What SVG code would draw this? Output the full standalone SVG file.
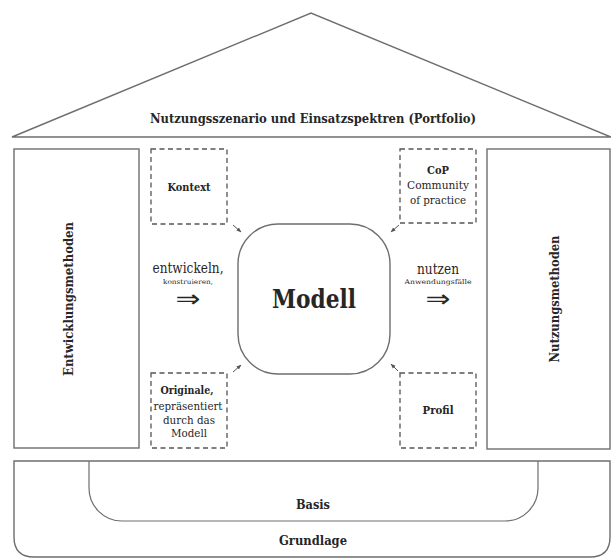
<svg xmlns="http://www.w3.org/2000/svg" width="611" height="558" viewBox="0 0 611 558">
  <style>
    .frame { fill: #fff; stroke: #6e6e6e; stroke-width: 1.4; }
    .thin { fill: none; stroke: #6e6e6e; stroke-width: 1.2; }
    .dash { fill: #fff; stroke: #555; stroke-width: 1.3; stroke-dasharray: 5 3.5; }
    .conn { fill: none; stroke: #555; stroke-width: 1; marker-end: url(#tip); }
    text { font-family: "DejaVu Serif Condensed", "DejaVu Serif", "Liberation Serif", serif; fill: #262626; text-anchor: middle; }
    .b { font-weight: bold; }
    .arrow { font-family: "DejaVu Sans", sans-serif; }
  </style>
  <defs>
    <marker id="tip" viewBox="0 0 10 10" refX="9" refY="5" markerWidth="5" markerHeight="5" orient="auto">
      <path d="M0,1 L10,5 L0,9 Z" fill="#555"/>
    </marker>
  </defs>
  <rect width="611" height="558" fill="#fff"/>

  <!-- roof -->
  <g id="roof">
    <polygon class="frame" points="12,137 311,13 611,137"/>
    <text class="b" x="313" y="123" font-size="12.5" textLength="326" lengthAdjust="spacingAndGlyphs">Nutzungsszenario und Einsatzspektren (Portfolio)</text>
  </g>

  <!-- left pillar -->
  <g id="entwicklungsmethoden">
    <rect class="frame" x="14" y="149" width="125" height="299"/>
    <text class="b" transform="translate(73,299) rotate(-90)" font-size="12.5" textLength="154" lengthAdjust="spacingAndGlyphs">Entwicklungsmethoden</text>
  </g>

  <!-- right pillar -->
  <g id="nutzungsmethoden">
    <rect class="frame" x="487" y="149" width="123" height="300"/>
    <text class="b" transform="translate(559,299) rotate(-90)" font-size="12.5" textLength="127" lengthAdjust="spacingAndGlyphs">Nutzungsmethoden</text>
  </g>

  <!-- foundation -->
  <g id="grundlage">
    <path class="frame" d="M14,461 H610 V537 Q610,557 590,557 H34 Q14,557 14,537 Z"/>
    <text class="b" x="313" y="545" font-size="12" textLength="68" lengthAdjust="spacingAndGlyphs">Grundlage</text>
  </g>
  <g id="basis">
    <path class="thin" d="M89,461 V488 A33,33 0 0 0 122,521 H505 A33,33 0 0 0 538,488 V461"/>
    <text class="b" x="313" y="509" font-size="12" textLength="34" lengthAdjust="spacingAndGlyphs">Basis</text>
  </g>

  <!-- dashed corner boxes -->
  <g id="kontext">
    <rect class="dash" x="151" y="149" width="76" height="75"/>
    <text class="b" x="189" y="191" font-size="11" textLength="43" lengthAdjust="spacingAndGlyphs">Kontext</text>
  </g>
  <g id="cop">
    <rect class="dash" x="400" y="149" width="76" height="74"/>
    <text class="b" x="438" y="174" font-size="11" textLength="22" lengthAdjust="spacingAndGlyphs">CoP</text>
    <text x="438" y="189" font-size="11" textLength="62" lengthAdjust="spacingAndGlyphs">Community</text>
    <text x="438" y="204" font-size="11" textLength="56" lengthAdjust="spacingAndGlyphs">of practice</text>
  </g>
  <g id="originale">
    <rect class="dash" x="151" y="373" width="76" height="75"/>
    <text class="b" x="187" y="394" font-size="11" textLength="53" lengthAdjust="spacingAndGlyphs">Originale,</text>
    <text x="188" y="410" font-size="11" textLength="69" lengthAdjust="spacingAndGlyphs">repräsentiert</text>
    <text x="189" y="424" font-size="11" textLength="52" lengthAdjust="spacingAndGlyphs">durch das</text>
    <text x="189" y="437" font-size="11" textLength="36" lengthAdjust="spacingAndGlyphs">Modell</text>
  </g>
  <g id="profil">
    <rect class="dash" x="400" y="373" width="76" height="75"/>
    <text class="b" x="438" y="414" font-size="11" textLength="31" lengthAdjust="spacingAndGlyphs">Profil</text>
  </g>

  <!-- central model -->
  <g id="modell">
    <rect class="frame" x="238" y="224" width="152" height="150" rx="40" ry="40"/>
    <text class="b" x="314" y="308" font-size="26" textLength="84" lengthAdjust="spacingAndGlyphs">Modell</text>
  </g>

  <!-- flow labels -->
  <g id="entwickeln">
    <text x="188" y="273" font-size="15" textLength="71" lengthAdjust="spacingAndGlyphs">entwickeln,</text>
    <text x="188" y="284" font-size="6.5" textLength="50" lengthAdjust="spacingAndGlyphs">konstruieren,</text>
    <text class="arrow" x="188" y="307" font-size="24" textLength="25" lengthAdjust="spacingAndGlyphs">⇒</text>
  </g>
  <g id="nutzen">
    <text x="438" y="274" font-size="15" textLength="42" lengthAdjust="spacingAndGlyphs">nutzen</text>
    <text x="438" y="284" font-size="6.5" textLength="67" lengthAdjust="spacingAndGlyphs">Anwendungsfälle</text>
    <text class="arrow" x="438" y="307" font-size="24" textLength="25" lengthAdjust="spacingAndGlyphs">⇒</text>
  </g>

  <!-- connectors toward the model -->
  <g id="connectors">
    <line class="conn" x1="233" y1="225" x2="241" y2="232"/>
    <line class="conn" x1="399" y1="225" x2="391" y2="232"/>
    <line class="conn" x1="233" y1="372" x2="241" y2="365"/>
    <line class="conn" x1="398" y1="371" x2="391" y2="364"/>
  </g>
</svg>
